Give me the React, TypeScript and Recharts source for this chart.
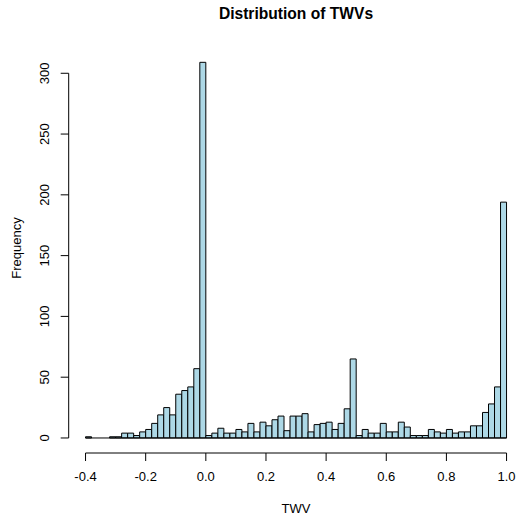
import { BarChart, Bar, XAxis, YAxis, ReferenceLine } from 'recharts'

// bin midpoints, bins of width 0.02 from -0.4 to 1.0
const binMids = [
  -0.39, -0.37, -0.35, -0.33, -0.31, -0.29, -0.27, -0.25, -0.23, -0.21,
  -0.19, -0.17, -0.15, -0.13, -0.11, -0.09, -0.07, -0.05, -0.03, -0.01,
  0.01, 0.03, 0.05, 0.07, 0.09, 0.11, 0.13, 0.15, 0.17, 0.19,
  0.21, 0.23, 0.25, 0.27, 0.29, 0.31, 0.33, 0.35, 0.37, 0.39,
  0.41, 0.43, 0.45, 0.47, 0.49, 0.51, 0.53, 0.55, 0.57, 0.59,
  0.61, 0.63, 0.65, 0.67, 0.69, 0.71, 0.73, 0.75, 0.77, 0.79,
  0.81, 0.83, 0.85, 0.87, 0.89, 0.91, 0.93, 0.95, 0.97, 0.99,
]

const counts = [
  1, 0, 0, 0, 1, 1, 4, 4, 2, 5,
  7, 12, 19, 25, 19, 36, 39, 42, 57, 309,
  2, 4, 8, 4, 4, 7, 5, 12, 5, 13,
  10, 15, 18, 6, 18, 18, 20, 5, 11, 12,
  13, 7, 12, 24, 65, 2, 7, 4, 4, 12,
  5, 5, 13, 9, 2, 2, 2, 7, 5, 4,
  7, 4, 5, 5, 10, 10, 21, 28, 42, 194,
]

const xTicks = [-0.4, -0.2, 0, 0.2, 0.4, 0.6, 0.8, 1.0]
const yTicks = [0, 50, 100, 150, 200, 250, 300]

const FONT = '"Liberation Sans", Arial, Helvetica, sans-serif'

const data = binMids.map((mid, i) => ({ mid, count: counts[i] }))

// R-style axis ranges: 4% padding on each side
const xMin = -0.4
const xMax = 1.0
const xPad = (xMax - xMin) * 0.04
const yMax = Math.max(...counts)
const yPad = yMax * 0.04

function YTick(props: any) {
  const { x, y, payload } = props
  return (
    <text
      x={x}
      y={y}
      transform={`rotate(-90 ${x} ${y})`}
      textAnchor="middle"
      fontSize={13}
      fontFamily={FONT}
      fill="#000"
    >
      {payload.value}
    </text>
  )
}

export default function App() {
  return (
    <div style={{ position: 'absolute', left: 0, top: 0, width: 517, height: 516, overflow: 'hidden', background: '#fff' }}>
      <BarChart
        width={540}
        height={516}
        data={data}
        barCategoryGap={0}
        margin={{ top: 47.3, right: 16.6, left: 8.7, bottom: 33 }}
      >
        <XAxis
          type="number"
          dataKey="mid"
          domain={[xMin - xPad, xMax + xPad]}
          ticks={xTicks}
          allowDataOverflow
          interval={0}
          axisLine={false}
          tickLine={{ stroke: '#000' }}
          tickSize={8}
          tickMargin={11}
          height={30}
          tick={{ fontSize: 13, fontFamily: FONT, fill: '#000' }}
          tickFormatter={(v: number) => v.toFixed(1)}
          label={{
            content: () => (
              <text x={296} y={513.3} textAnchor="middle" fontSize={13} fontFamily={FONT} fill="#000">
                TWV
              </text>
            ),
          }}
        />
        <YAxis
          type="number"
          domain={[-yPad, yMax + yPad]}
          ticks={yTicks}
          allowDataOverflow
          interval={0}
          width={60}
          axisLine={false}
          tickLine={{ stroke: '#000' }}
          tickSize={8}
          tickMargin={11.7}
          tick={<YTick />}
          label={{
            content: () => (
              <text
                x={20.5}
                y={248}
                transform="rotate(-90 20.5 248)"
                textAnchor="middle"
                fontSize={13}
                fontFamily={FONT}
                fill="#000"
              >
                Frequency
              </text>
            ),
          }}
        />
        <Bar dataKey="count" fill="#ADD8E6" stroke="#000" strokeWidth={1} isAnimationActive={false} />
        <ReferenceLine
          segment={[{ x: xMin, y: 0 }, { x: xMax, y: 0 }]}
          stroke="#000"
          ifOverflow="visible"
        />
        <ReferenceLine
          segment={[{ x: xMin, y: -yPad }, { x: xMax, y: -yPad }]}
          stroke="#000"
          ifOverflow="visible"
        />
        <ReferenceLine
          segment={[{ x: xMin - xPad, y: 0 }, { x: xMin - xPad, y: 300 }]}
          stroke="#000"
          ifOverflow="visible"
        />
      </BarChart>
      <svg width={517} height={40} style={{ position: 'absolute', left: 0, top: 0, pointerEvents: 'none' }}>
        <text x={296} y={18.5} textAnchor="middle" fontSize={15.6} fontWeight="bold" fontFamily={FONT} fill="#000">
          Distribution of TWVs
        </text>
      </svg>
    </div>
  )
}
